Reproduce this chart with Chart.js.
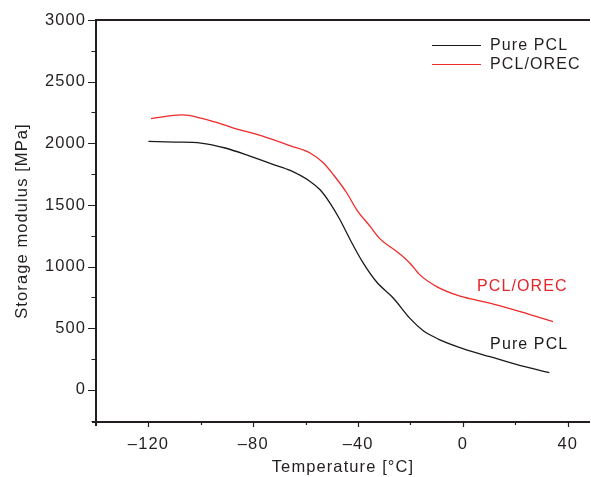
<!DOCTYPE html>
<html>
<head>
<meta charset="utf-8">
<script src="https://cdn.jsdelivr.net/npm/chart.js@4.4.1/dist/chart.umd.min.js"></script>
<style>
  html, body { margin: 0; padding: 0; background: #fff; }
  #wrap { width: 591px; height: 477px; position: relative; }
</style>
</head>
<body>
<div id="wrap"><canvas id="c"></canvas></div>
<script>
// Storage modulus vs temperature (DMA), two samples
const pureTemp = [-120, -110, -100, -90.7, -81, -72, -65.9, -58.3, -54.5, -50.7, -46.9, -43, -38, -32.9, -26.5, -20.2, -15, -11.3, -8.8, 0, 10.3, 20, 33];
const pureModulus = [2015, 2010, 2002, 1962, 1894, 1826, 1780, 1691, 1623, 1515, 1380, 1218, 1028, 875, 744, 580, 478, 433, 406, 335, 270, 210, 140];

const orecTemp = [-119, -112, -107, -100, -94, -87.5, -77, -66, -58.3, -53.2, -49.4, -44.3, -40.5, -35.4, -31.6, -25.3, -20.2, -16.4, -10, -1.1, 2.7, 12.8, 25, 34.4];
const orecModulus = [2200, 2222, 2230, 2205, 2170, 2124, 2062, 1981, 1921, 1840, 1745, 1597, 1461, 1326, 1225, 1123, 1028, 933, 838, 760, 740, 690, 615, 554];

const seriesNames = ['Pure PCL', 'PCL/OREC'];
const seriesColors = ['#1a1a1a', '#ee2a2a'];

const xTickValues = [-140, -120, -100, -80, -60, -40, -20, 0, 20, 40];
const xLabelValues = [-120, -80, -40, 0, 40];
const yTickValues = [-250, 0, 250, 500, 750, 1000, 1250, 1500, 1750, 2000, 2250, 2500, 2750, 3000];
const yLabelValues = [0, 500, 1000, 1500, 2000, 2500, 3000];

// In-plot curve labels: [text, temperature, modulus, colour]
const curveLabels = [
  ['PCL/OREC', 22.7, 839, '#e3262a'],
  ['Pure PCL', 25.3, 365, '#1a1a1a']
];

const toPoints = (xs, ys) => xs.map((x, i) => ({ x: x, y: ys[i] }));

const FONT = 'Liberation Sans, Arial, Helvetica, sans-serif';
const INK = '#231f20';

const trackingPlugin = {
  id: 'tracking',
  beforeLayout(chart) { chart.ctx.letterSpacing = '1.1px'; },
  beforeDraw(chart) { chart.ctx.letterSpacing = '1.1px'; }
};

const framePlugin = {
  id: 'frame',
  afterDraw(chart) {
    const ctx = chart.ctx;
    const a = chart.chartArea;
    const xs = chart.scales.x, ys = chart.scales.y;
    ctx.save();
    ctx.strokeStyle = INK;
    ctx.lineCap = 'butt';
    // axes and top border
    ctx.lineWidth = 2;
    ctx.beginPath();
    ctx.moveTo(a.left - 4, a.bottom); ctx.lineTo(a.right, a.bottom);
    ctx.moveTo(a.left, a.bottom + 4); ctx.lineTo(a.left, a.top);
    ctx.lineTo(a.right, a.top);
    ctx.stroke();
    // ticks
    ctx.lineWidth = 1.2;
    ctx.beginPath();
    xTickValues.forEach(v => {
      const px = Math.round(xs.getPixelForValue(v)) + 0.5;
      const len = xLabelValues.includes(v) ? 5 : 3;
      ctx.moveTo(px, a.bottom); ctx.lineTo(px, a.bottom + len);
    });
    yTickValues.forEach(v => {
      const py = Math.round(ys.getPixelForValue(v)) + 0.5;
      const len = yLabelValues.includes(v) ? 8 : 4.5;
      ctx.moveTo(a.left, py); ctx.lineTo(a.left - len, py);
    });
    ctx.stroke();

    // legend (top right)
    ctx.font = '16px ' + FONT;
    ctx.textBaseline = 'middle';
    ctx.textAlign = 'left';
    const lx = a.right - 158;
    chart.data.datasets.forEach((ds, i) => {
      const y = a.top + 25 + i * 19;
      ctx.strokeStyle = ds.borderColor;
      ctx.lineWidth = 1;
      ctx.beginPath();
      ctx.moveTo(lx, y + 0.5); ctx.lineTo(lx + 49, y + 0.5);
      ctx.stroke();
      ctx.fillStyle = INK;
      ctx.fillText(ds.label, lx + 58, y + 1);
    });

    // curve labels
    ctx.textAlign = 'center';
    curveLabels.forEach(([t, x, y, c]) => {
      ctx.fillStyle = c;
      ctx.fillText(t, xs.getPixelForValue(x), ys.getPixelForValue(y));
    });
    ctx.restore();
  }
};

new Chart(document.getElementById('c'), {
  type: 'line',
  data: {
    datasets: [
      { label: seriesNames[0], data: toPoints(pureTemp, pureModulus), borderColor: seriesColors[0], borderWidth: 1.3, pointRadius: 0, cubicInterpolationMode: 'monotone', fill: false },
      { label: seriesNames[1], data: toPoints(orecTemp, orecModulus), borderColor: seriesColors[1], borderWidth: 1.3, pointRadius: 0, cubicInterpolationMode: 'monotone', fill: false }
    ]
  },
  options: {
    responsive: true,
    maintainAspectRatio: false,
    animation: false,
    layout: { padding: { top: 20, right: 0, left: 0, bottom: 0 } },
    plugins: { legend: { display: false }, tooltip: { enabled: false } },
    scales: {
      x: {
        type: 'linear',
        min: -140,
        max: 48.5,
        grid: { display: false, drawTicks: false },
        border: { display: false },
        afterBuildTicks: s => { s.ticks = xLabelValues.map(v => ({ value: v })); },
        afterFit: s => { s.height = 55; },
        ticks: {
          autoSkip: false,
          maxRotation: 0,
          padding: 13,
          color: INK,
          font: { family: FONT, size: 16.5 },
          callback: v => (v < 0 ? '\u2013' + Math.abs(v) : String(v))
        },
        title: {
          display: true,
          text: 'Temperature [°C]',
          color: INK,
          font: { family: FONT, size: 16.5 },
          padding: { top: 2, bottom: 0 }
        }
      },
      y: {
        type: 'linear',
        min: -260,
        max: 3000,
        grid: { display: false, drawTicks: false },
        border: { display: false },
        afterBuildTicks: s => { s.ticks = yLabelValues.map(v => ({ value: v })); },
        afterFit: s => { s.width = 96; },
        ticks: {
          autoSkip: false,
          padding: 10,
          color: INK,
          font: { family: FONT, size: 16.5 },
          callback: v => String(v)
        },
        title: {
          display: true,
          text: 'Storage modulus [MPa]',
          color: INK,
          font: { family: FONT, size: 16.5 },
          padding: { top: 13, bottom: 0 }
        }
      }
    }
  },
  plugins: [trackingPlugin, framePlugin]
});
</script>
</body>
</html>
